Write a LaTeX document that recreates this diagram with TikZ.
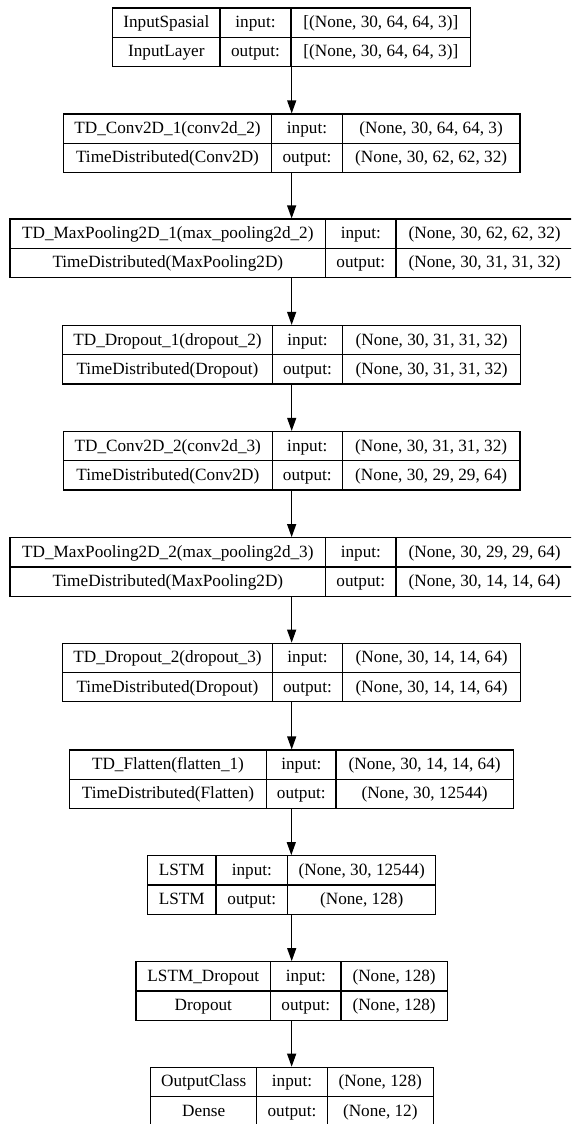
\documentclass[tikz,border=0pt]{standalone}
\usepackage{fontspec}
\setmainfont{Liberation Serif}
\usetikzlibrary{arrows.meta}
\tikzset{
  boxline/.style={draw=black, line width=1.2pt},
  layer/.style={boxline, rectangle, inner sep=0pt, minimum height=58.4pt},
  cell/.style={anchor=base, inner sep=0pt, font=\fontsize{17.2}{20}\selectfont},
  arr/.style={draw=black, line width=1.2pt, -{Triangle[length=13pt,width=9pt]}}
}
% #1 name, #2 left, #3 first divider, #4 second divider, #5 right, #6 top (px from top)
\newcommand\lbox[6]{%
  \pgfmathsetmacro\bw{#5-#2}%
  \pgfmathsetmacro\bx{(#2+#5)/2}%
  \pgfmathsetmacro\by{-#6-29.2}%
  \pgfmathsetmacro\xa{(#2+#3)/2}%
  \pgfmathsetmacro\xb{(#3+#4)/2}%
  \pgfmathsetmacro\xc{(#4+#5)/2}%
  \pgfmathsetmacro\ya{-#6-14.6-5}%
  \pgfmathsetmacro\yb{-#6-43.8-5}%
  \node[layer, minimum width=\bw pt] (#1) at (\bx,\by) {};
  \draw[boxline] (#3,-#6) -- (#3,-#6-58.4) (#4,-#6) -- (#4,-#6-58.4)
                 (#2,\by) -- (#5,\by);
}
% #1 name, then the six cell texts row by row
\newcommand\ltext[7]{%
  \node[cell] (#1-a) at (\xa,\ya) {#2};
  \node[cell] (#1-b) at (\xb,\ya) {#3};
  \node[cell] (#1-c) at (\xc,\ya) {#4};
  \node[cell] (#1-d) at (\xa,\yb) {#5};
  \node[cell] (#1-e) at (\xb,\yb) {#6};
  \node[cell] (#1-f) at (\xc,\yb) {#7};
}
\begin{document}
\begin{tikzpicture}[x=1pt,y=1pt]
\useasboundingbox (0,0) rectangle (571,-1124);
\clip (0,0) rectangle (571,-1124);

\lbox{b1}{112.7}{220}{291}{470.7}{8}
\ltext{b1}{InputSpasial}{input:}{[(None, 30, 64, 64, 3)]}{InputLayer}{output:}{[(None, 30, 64, 64, 3)]}

\lbox{b2}{63.3}{271.7}{342.3}{520}{114}
\ltext{b2}{TD\_Conv2D\_1(conv2d\_2)}{input:}{(None, 30, 64, 64, 3)}{TimeDistributed(Conv2D)}{output:}{(None, 30, 62, 62, 32)}

\lbox{b3}{10}{325.7}{396}{573.3}{219}
\ltext{b3}{TD\_MaxPooling2D\_1(max\_pooling2d\_2)}{input:}{(None, 30, 62, 62, 32)}{TimeDistributed(MaxPooling2D)}{output:}{(None, 30, 31, 31, 32)}

\lbox{b4}{62.7}{272.3}{342.7}{520.7}{325.5}
\ltext{b4}{TD\_Dropout\_1(dropout\_2)}{input:}{(None, 30, 31, 31, 32)}{TimeDistributed(Dropout)}{output:}{(None, 30, 31, 31, 32)}

\lbox{b5}{63.3}{272.3}{342.3}{520}{431.5}
\ltext{b5}{TD\_Conv2D\_2(conv2d\_3)}{input:}{(None, 30, 31, 31, 32)}{TimeDistributed(Conv2D)}{output:}{(None, 30, 29, 29, 64)}

\lbox{b6}{10}{325.7}{396}{573.3}{537.7}
\ltext{b6}{TD\_MaxPooling2D\_2(max\_pooling2d\_3)}{input:}{(None, 30, 29, 29, 64)}{TimeDistributed(MaxPooling2D)}{output:}{(None, 30, 14, 14, 64)}

\lbox{b7}{62.7}{272.3}{342.7}{520.7}{643.3}
\ltext{b7}{TD\_Dropout\_2(dropout\_3)}{input:}{(None, 30, 14, 14, 64)}{TimeDistributed(Dropout)}{output:}{(None, 30, 14, 14, 64)}

\lbox{b8}{69.3}{266.7}{336}{513.3}{750}
\ltext{b8}{TD\_Flatten(flatten\_1)}{input:}{(None, 30, 14, 14, 64)}{TimeDistributed(Flatten)}{output:}{(None, 30, 12544)}

\lbox{b9}{147.7}{216}{287.7}{435.7}{855.7}
\ltext{b9}{LSTM}{input:}{(None, 30, 12544)}{LSTM}{output:}{(None, 128)}

\lbox{b10}{136}{270.7}{341}{447.3}{961.7}
\ltext{b10}{LSTM\_Dropout}{input:}{(None, 128)}{Dropout}{output:}{(None, 128)}

\lbox{b11}{150.7}{256.7}{327.3}{433.3}{1067.3}
\ltext{b11}{OutputClass}{input:}{(None, 128)}{Dense}{output:}{(None, 12)}

\foreach \s/\t in {b1/b2,b2/b3,b3/b4,b4/b5,b5/b6,b6/b7,b7/b8,b8/b9,b9/b10,b10/b11}
  \draw[arr] (\s.south) -- (\s.south |- \t.north);
\end{tikzpicture}
\end{document}
